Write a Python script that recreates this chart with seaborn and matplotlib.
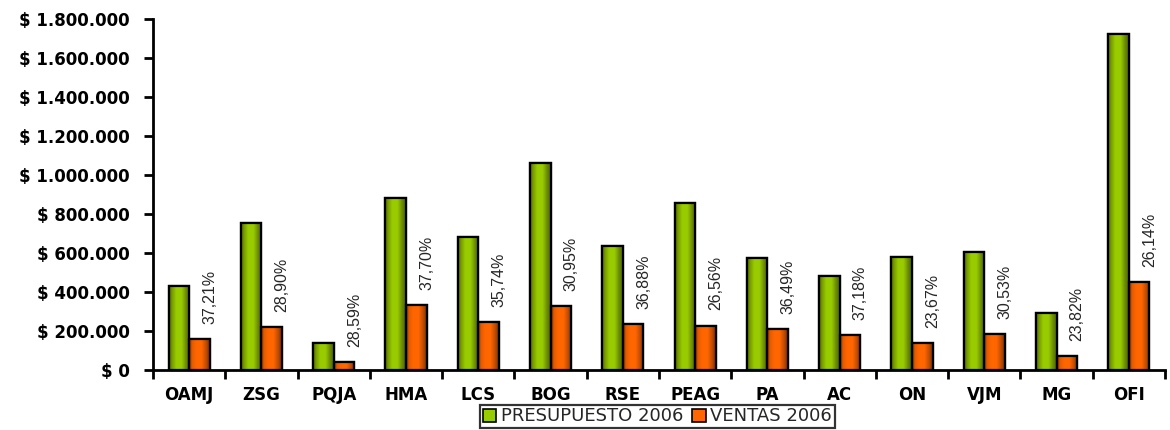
import numpy as np
import pandas as pd
import matplotlib
matplotlib.use("Agg")
import matplotlib.pyplot as plt
from matplotlib.colors import LinearSegmentedColormap
from matplotlib.patches import Patch, Rectangle
from matplotlib.ticker import FuncFormatter, FixedLocator
import seaborn as sns

# Data
categorias = ["OAMJ", "ZSG", "PQJA", "HMA", "LCS", "BOG", "RSE", "PEAG",
              "PA", "AC", "ON", "VJM", "MG", "OFI"]
presupuesto_2006 = [432000, 755000, 137000, 882000, 684000, 1061000, 638000,
                    855000, 573000, 480000, 581000, 603000, 294000, 1721000]
ventas_2006 = [160000, 219000, 40000, 332000, 245000, 328000, 235000,
               227000, 209000, 178000, 137000, 184000, 70000, 450000]
porcentajes = ["37,21%", "28,90%", "28,59%", "37,70%", "35,74%", "30,95%",
               "36,88%", "26,56%", "36,49%", "37,18%", "23,67%", "30,53%",
               "23,82%", "26,14%"]
series = ["PRESUPUESTO 2006", "VENTAS 2006"]

VERDE = "#99cc00"
NARANJA = "#ff6600"

df = pd.DataFrame({
    "categoria": categorias * 2,
    "valor": presupuesto_2006 + ventas_2006,
    "serie": [series[0]] * len(categorias) + [series[1]] * len(categorias),
})

sns.set_style("white")
plt.rcParams["font.family"] = ["DejaVu Sans"]

fig = plt.figure(figsize=(11.7, 4.3), dpi=100, facecolor="white")
ax = fig.add_axes([0.1308, 0.1395, 0.8649, 0.8163])

sns.barplot(data=df, x="categoria", y="valor", hue="serie",
            palette=[VERDE, NARANJA], width=0.57, saturation=1,
            edgecolor="black", linewidth=1.6, legend=False, ax=ax)

# cylinder-like shading inside every bar
grad_verde = LinearSegmentedColormap.from_list(
    "gv", [(0, "#4d6600"), (0.15, "#7a9e00"), (0.35, "#99cc00"),
           (0.6, "#99cc00"), (0.82, "#6b8c00"), (1, "#4d6600")])
grad_naranja = LinearSegmentedColormap.from_list(
    "gn", [(0, "#8a3300"), (0.15, "#e65c00"), (0.35, "#ff6600"),
           (0.6, "#ff6600"), (0.82, "#c24d00"), (1, "#7a2e00")])
ramp = np.linspace(0, 1, 64).reshape(1, -1)
n = len(categorias)
for k, bar in enumerate(list(ax.patches)[:2 * n]):
    cmap = grad_verde if k < n else grad_naranja
    x0, y0 = bar.get_x(), bar.get_y()
    w, h = bar.get_width(), bar.get_height()
    img = ax.imshow(ramp, cmap=cmap, extent=[x0, x0 + w, y0, y0 + h],
                    aspect="auto", zorder=2, interpolation="bilinear")
    img.set_clip_path(bar)
    ax.add_patch(Rectangle((x0, y0), w, h, facecolor="none",
                           edgecolor="black", linewidth=1.6, zorder=3))

# ratio labels above the sales bars
for i, txt in enumerate(porcentajes):
    ax.annotate(txt, xy=(i + 0.285, ventas_2006[i]), xytext=(0, 11),
                textcoords="offset points", rotation=90, ha="center",
                va="bottom", fontsize=11.5, family=["Liberation Sans"])

ax.set_xlim(-0.5, n - 0.5)
ax.set_ylim(0, 1800000)
ax.set_yticks(np.arange(0, 1800001, 200000))
ax.yaxis.set_major_formatter(FuncFormatter(
    lambda v, p: "$ " + f"{v:,.0f}".replace(",", ".")))
ax.set_xlabel("")
ax.set_ylabel("")

for s in ["top", "right"]:
    ax.spines[s].set_visible(False)
for s in ["left", "bottom"]:
    ax.spines[s].set_linewidth(2)
    ax.spines[s].set_color("black")

ax.tick_params(axis="y", which="major", direction="out", length=6.5,
               width=2, pad=10.5, labelsize=12, colors="black", left=True)
ax.tick_params(axis="x", which="major", length=0, pad=11.5, labelsize=12,
               colors="black")
ax.xaxis.set_minor_locator(FixedLocator(np.arange(-0.5, n, 1.0)))
ax.tick_params(axis="x", which="minor", direction="out", length=6.5,
               width=2, bottom=True, color="black")
for lab in ax.get_xticklabels() + ax.get_yticklabels():
    lab.set_fontweight("bold")

handles = [Patch(facecolor=VERDE, edgecolor="black", linewidth=1.2),
           Patch(facecolor=NARANJA, edgecolor="black", linewidth=1.2)]
leg = fig.legend(handles, series, loc="lower center",
                 bbox_to_anchor=(0.562, 0.0), ncol=2, frameon=True,
                 fancybox=False, edgecolor="black", fontsize=13,
                 handlelength=0.75, handleheight=0.75, handletextpad=0.25,
                 columnspacing=0.5, borderpad=0.15, borderaxespad=0.1)
leg.get_frame().set_linewidth(1.6)

fig.savefig("out.png", dpi=100, facecolor="white")
